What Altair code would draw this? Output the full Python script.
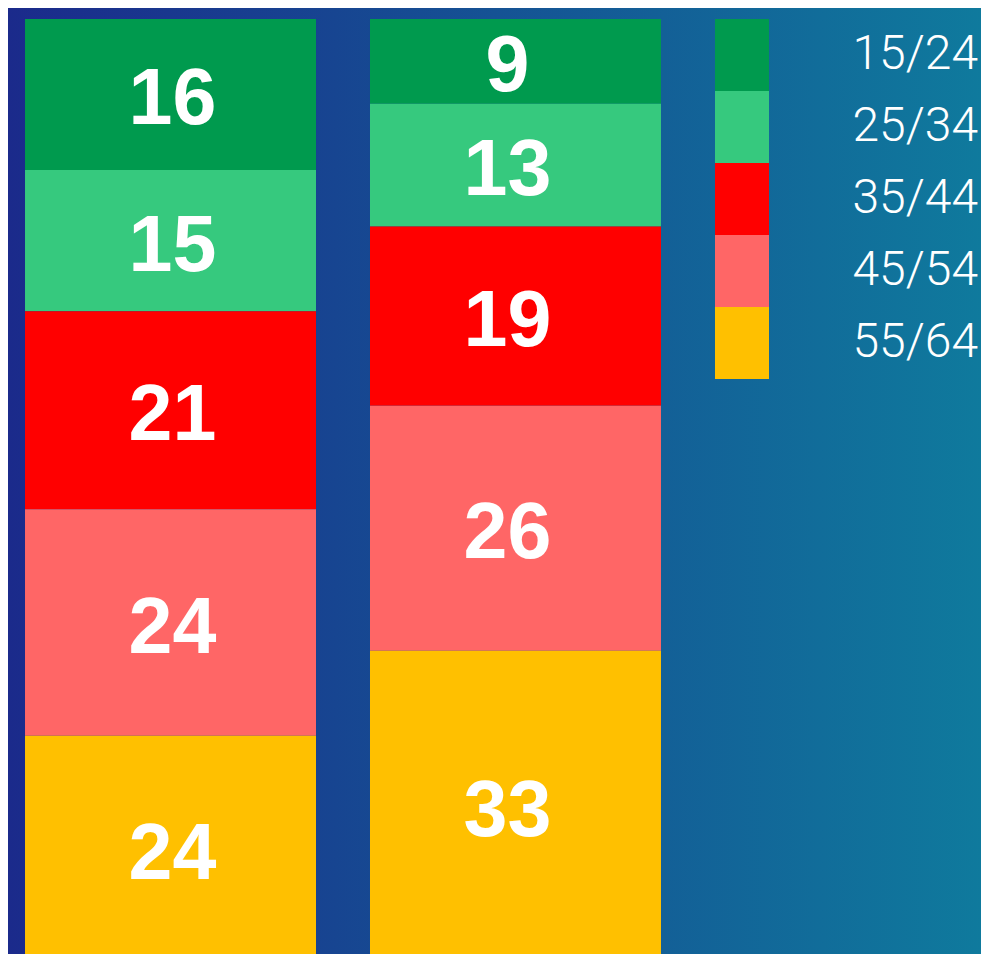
import altair as alt
import pandas as pd

# ---- data ----
columns = ["A", "B"]
age_groups = ["15/24", "25/34", "35/44", "45/54", "55/64"]
values_a = [16, 15, 21, 24, 24]
values_b = [9, 13, 19, 26, 33]
colors = ["#009a4e", "#36c97e", "#ff0000", "#ff6666", "#ffc000"]

rows = []
for col, vals in zip(columns, [values_a, values_b]):
    top = 100.0
    for i, (g, v) in enumerate(zip(age_groups, vals)):
        rows.append({"col": col, "age": g, "order": i, "value": v,
                     "y_top": top, "y_bot": top - v, "y_mid": top - v / 2})
        top -= v
df = pd.DataFrame(rows)
leg = pd.DataFrame({"age": age_groups})

W, H = 973, 946
PX = 9.43  # pixels per unit
ydom = [(954 - H) / PX, 100 + 11 / PX]

xscale = alt.Scale(domain=columns, range=[0, 670], paddingInner=0.1565, paddingOuter=0.0493)
yscale = alt.Scale(domain=ydom, nice=False, zero=False)
cscale = alt.Scale(domain=age_groups, range=colors)

bg = alt.LinearGradient(
    gradient="linear",
    stops=[alt.GradientStop(color="#1b2a8b", offset=0),
           alt.GradientStop(color="#0f7a9d", offset=1)],
    x1=0, x2=1, y1=0, y2=0,
)

background = alt.Chart(pd.DataFrame({"k": [0]})).mark_rect(color=bg).encode(
    x=alt.value(0), x2=alt.value(W), y=alt.value(0), y2=alt.value(H)
)

bars = alt.Chart(df).mark_rect(clip=True).encode(
    x=alt.X("col:N", scale=xscale, axis=None),
    y=alt.Y("y_top:Q", scale=yscale, axis=None),
    y2="y_bot:Q",
    color=alt.Color("age:N", scale=cscale, legend=None),
)

bar_text = alt.Chart(df).mark_text(
    font="Liberation Sans", fontWeight="bold", fontSize=79, color="white",
    baseline="middle", align="center", dy=6, dx=-3
).encode(
    x=alt.X("col:N", scale=xscale, axis=None),
    y=alt.Y("y_mid:Q", scale=yscale, axis=None),
    text="value:Q",
)

lscale = alt.Scale(domain=age_groups, range=[11, 371], paddingInner=0, paddingOuter=0)

leg_rect = alt.Chart(leg).mark_rect().encode(
    x=alt.value(707), x2=alt.value(761),
    y=alt.Y("age:N", scale=lscale, axis=None),
    color=alt.Color("age:N", scale=cscale, legend=None),
)

leg_text = alt.Chart(leg).mark_text(
    font="Roboto", fontWeight=300, fontSize=48, color="white",
    align="right", baseline="middle"
).encode(
    x=alt.value(970),
    y=alt.Y("age:N", scale=lscale, axis=None),
    text="age:N",
)

chart = alt.layer(background, bars, bar_text, leg_rect, leg_text).resolve_scale(
    x="independent", y="independent"
).properties(
    width=W, height=H, padding=0,
    autosize=alt.AutoSizeParams(type="none"),
).configure_view(stroke=None)

chart.save("out.html", embed_options={"renderer": "svg", "actions": False})
